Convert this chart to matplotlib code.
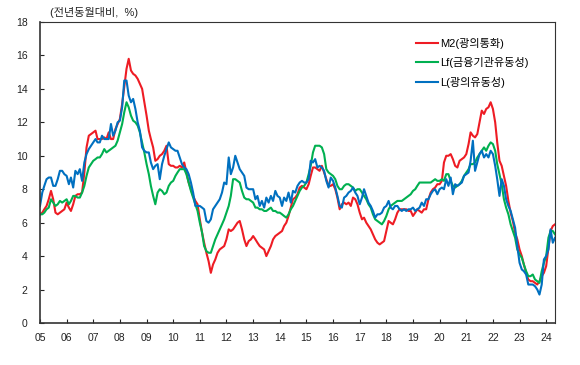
import matplotlib
matplotlib.use('Agg')
import matplotlib.pyplot as plt
import pandas as pd

plt.rcParams['font.family'] = ['Liberation Sans', 'Noto Sans CJK KR', 'DejaVu Sans']

# 전년동월대비 증가율 (%), 2005.1 ~ 2024.5 월별
m2 = [
    6.5, 6.6, 6.8, 7.0, 7.4, 7.9, 7.4, 6.6, 6.5, 6.6, 6.7, 6.8,            # 2005
    7.2, 6.9, 6.7, 7.1, 7.6, 7.7, 7.7, 7.8, 9.0, 10.5, 11.2, 11.3,         # 2006
    11.4, 11.5, 11.0, 11.0, 11.0, 11.1, 11.0, 11.4, 11.0, 11.0, 11.6, 11.9,  # 2007
    12.2, 13.1, 14.1, 15.2, 15.8, 15.1, 14.9, 14.8, 14.6, 14.3, 14.0, 13.2,  # 2008
    12.4, 11.5, 11.0, 10.5, 9.7, 9.8, 10.0, 10.1, 10.3, 10.6, 9.5, 9.4,    # 2009
    9.4, 9.3, 9.3, 9.4, 9.3, 9.6, 9.0, 8.4, 8.0, 7.6, 7.3, 7.1,            # 2010
    6.2, 5.4, 4.8, 4.2, 3.7, 3.0, 3.5, 3.8, 4.2, 4.4, 4.5, 4.6,            # 2011
    5.0, 5.6, 5.5, 5.6, 5.8, 6.0, 6.1, 5.6, 5.0, 4.6, 4.9, 5.0,            # 2012
    5.2, 5.0, 4.8, 4.6, 4.5, 4.4, 4.0, 4.3, 4.6, 5.0, 5.2, 5.3,            # 2013
    5.4, 5.5, 5.8, 6.0, 6.4, 6.9, 7.4, 7.5, 7.7, 8.1, 8.2, 8.1,            # 2014
    8.0, 8.3, 8.8, 9.3, 9.3, 9.2, 9.1, 9.4, 9.0, 8.6, 8.2, 8.2,            # 2015
    8.3, 8.0, 7.5, 6.8, 7.1, 7.2, 7.1, 7.2, 7.0, 7.5, 7.4, 7.1,            # 2016
    6.6, 6.2, 6.3, 6.0, 5.8, 5.6, 5.3, 5.0, 4.8, 4.7, 4.8, 4.9,            # 2017
    5.5, 6.1, 6.0, 5.9, 6.2, 6.6, 6.8, 6.8, 6.8, 6.8, 6.7, 6.7,            # 2018
    6.4, 6.6, 6.8, 6.7, 6.6, 6.8, 6.8, 7.4, 7.8, 8.0, 8.1, 8.3,            # 2019
    8.3, 8.5, 9.6, 10.0, 10.0, 10.1, 9.8, 9.4, 9.3, 9.7, 9.8, 9.9,         # 2020
    10.1, 10.7, 11.4, 11.2, 11.1, 11.3, 12.0, 12.7, 12.5, 12.8, 12.9, 13.2,  # 2021
    12.8, 12.0, 10.8, 9.7, 9.4, 8.8, 8.2, 7.3, 6.6, 6.1, 5.4, 5.0,         # 2022
    4.4, 4.0, 3.5, 3.0, 2.6, 2.5, 2.5, 2.4, 2.3, 2.5, 2.8, 3.0,            # 2023
    3.4, 4.5, 5.5, 5.8, 5.9,                                              # 2024
]
lf = [
    6.5, 6.5, 6.6, 6.8, 6.9, 7.4, 7.2, 7.0, 7.1, 7.3, 7.2, 7.3,
    7.4, 7.1, 7.3, 7.6, 7.6, 7.5, 7.5, 7.8, 8.2, 8.8, 9.3, 9.5,
    9.7, 9.8, 9.9, 9.9, 10.1, 10.4, 10.2, 10.3, 10.4, 10.5, 10.6, 10.9,
    11.4, 11.9, 12.6, 13.2, 12.9, 12.4, 12.1, 12.0, 11.8, 11.4, 10.8, 10.2,
    9.5, 8.9, 8.2, 7.6, 7.1, 7.8, 8.0, 7.9, 7.7, 7.8, 8.2, 8.4,
    8.5, 8.8, 9.0, 9.2, 9.2, 9.2, 8.9, 8.4, 7.9, 7.5, 7.1, 6.7,
    6.0, 5.4, 4.6, 4.3, 4.2, 4.2, 4.6, 5.0, 5.3, 5.6, 5.9, 6.2,
    6.6, 7.0, 7.6, 8.6, 8.6, 8.5, 8.4, 7.9, 7.5, 7.4, 7.4, 7.3,
    7.2, 6.9, 6.9, 6.8, 6.8, 6.7, 6.7, 6.8, 6.9, 6.7, 6.7, 6.6,
    6.6, 6.5, 6.4, 6.3, 6.5, 6.8, 7.0, 7.3, 7.6, 7.9, 8.1, 8.2,
    8.4, 8.9, 9.4, 10.2, 10.6, 10.6, 10.6, 10.5, 10.1, 9.2, 9.0, 8.9,
    8.8, 8.6, 8.2, 8.0, 8.0, 8.2, 8.3, 8.3, 8.2, 8.1, 7.9, 8.0,
    8.0, 7.8, 7.6, 7.4, 7.1, 6.9, 6.5, 6.2, 6.1, 6.0, 5.9, 6.1,
    6.4, 6.8, 7.0, 7.1, 7.2, 7.3, 7.3, 7.3, 7.4, 7.5, 7.6, 7.7,
    7.9, 8.0, 8.2, 8.4, 8.4, 8.4, 8.4, 8.4, 8.4, 8.5, 8.6, 8.5,
    8.5, 8.6, 8.5, 8.9, 8.9, 8.5, 8.2, 8.1, 8.2, 8.3, 8.5, 8.8,
    9.0, 9.2, 9.5, 9.5, 9.6, 9.9, 10.1, 10.3, 10.5, 10.3, 10.6, 10.8,
    10.7, 10.3, 9.5, 8.9, 8.3, 7.4, 6.9, 6.5, 5.9, 5.5, 5.1, 4.4,
    4.1, 3.9, 3.5, 3.1, 2.8, 2.8, 2.9, 2.6, 2.5, 2.4, 3.1, 3.6,
    4.0, 5.1, 5.5, 5.5, 5.3,
]
l_ = [
    7.0, 7.8, 8.2, 8.6, 8.7, 8.7, 8.2, 8.2, 8.6, 9.1, 9.1, 8.9,
    8.8, 8.3, 8.7, 8.1, 9.1, 8.9, 9.2, 8.5, 9.6, 10.1, 10.4, 10.6,
    10.8, 11.0, 10.8, 10.8, 11.2, 11.0, 11.0, 11.0, 11.9, 11.2, 11.5, 12.0,
    12.1, 12.9, 14.5, 14.5, 13.6, 13.2, 13.4, 12.8, 12.0, 11.5, 10.5, 10.3,
    10.2, 10.2, 9.6, 9.2, 9.4, 9.5, 8.6, 9.5, 10.0, 10.4, 10.8, 10.5,
    10.4, 10.3, 10.3, 9.9, 9.5, 9.3, 9.2, 8.9, 8.4, 7.8, 7.0, 7.0,
    7.0, 6.9, 6.8, 6.1, 6.0, 6.2, 6.8, 7.0, 7.2, 7.4, 7.8, 8.4,
    8.3, 9.9, 8.9, 9.3, 10.0, 9.6, 9.2, 9.0, 8.8, 8.1, 8.0, 8.0,
    8.0, 7.4, 7.6, 7.0, 7.3, 6.9, 7.5, 7.2, 7.6, 7.3, 7.9, 7.6,
    7.5, 7.0, 7.5, 7.3, 7.8, 7.2, 7.9, 7.8, 8.2, 8.4, 8.5, 8.4,
    8.4, 8.6, 9.7, 9.6, 9.8, 9.3, 9.4, 9.3, 9.1, 8.5, 8.1, 8.7,
    8.5, 8.1, 7.6, 7.0, 6.9, 7.5, 7.6, 7.8, 7.9, 8.1, 7.8, 7.6,
    7.1, 7.5, 8.0, 7.6, 7.2, 7.0, 6.7, 6.3, 6.5, 6.5, 6.6, 6.9,
    7.0, 7.3, 6.9, 6.8, 7.0, 7.0, 6.8, 6.7, 6.8, 6.7, 6.8, 6.8,
    6.9, 6.7, 6.8, 6.9, 7.2, 7.0, 7.4, 7.4, 7.7, 7.9, 8.0, 7.7,
    8.0, 8.1, 8.0, 8.6, 8.2, 8.7, 7.7, 8.3, 8.2, 8.3, 8.4, 8.8,
    8.9, 9.0, 9.7, 10.9, 9.1, 9.6, 10.1, 10.3, 9.9, 10.1, 9.9, 10.3,
    10.1, 9.4, 8.6, 7.6, 8.6, 8.2, 7.4, 7.0, 6.7, 6.2, 5.7, 4.6,
    3.6, 3.2, 3.1, 2.9, 2.3, 2.3, 2.3, 2.2, 2.0, 1.7, 2.3, 3.8,
    4.0, 4.4, 5.6, 4.8, 5.1,
]
labels = ['M2(광의통화)', 'Lf(금융기관유동성)', 'L(광의유동성)']
colors = ['#ee1c24', '#00b050', '#0070c0']
years = list(range(2005, 2025))
year_labels = [f'{y % 100:02d}' for y in years]

dates = pd.date_range('2005-01-01', periods=len(m2), freq='MS')

fig = plt.figure(figsize=(5.8, 3.65), dpi=100)
ax = fig.add_axes([40/580, 42/365, 515/580, 301/365])

for vals, lab, col in zip([m2, lf, l_], labels, colors):
    ax.plot(dates, vals, color=col, lw=1.5, label=lab)

ax.set_ylim(0, 18)
ax.set_yticks(range(0, 19, 2))
ax.set_xlim(dates[0], dates[-1])
ax.set_xticks([pd.Timestamp(f'{y}-01-01') for y in years])
ax.set_xticklabels(year_labels)

ax.tick_params(axis='both', direction='in', length=3, width=0.8,
               labelsize=7.5, colors='#222222')
ax.tick_params(axis='y', pad=9)
ax.tick_params(axis='x', pad=7)
for s in ax.spines.values():
    s.set_linewidth(0.8)
    s.set_color('#333333')
ax.spines['left'].set_linewidth(1.2)
ax.spines['bottom'].set_linewidth(1.2)

leg = ax.legend(loc='upper left', bbox_to_anchor=(0.73, 0.948), frameon=False,
                fontsize=8, handlelength=2.0, handletextpad=0.15,
                labelspacing=0.78, borderpad=0, borderaxespad=0)

fig.text(50/580, 1 - 13/365, '(전년동월대비,  %)', fontsize=8,
         va='center', ha='left', color='#222222')

fig.savefig('out.png', dpi=100)
